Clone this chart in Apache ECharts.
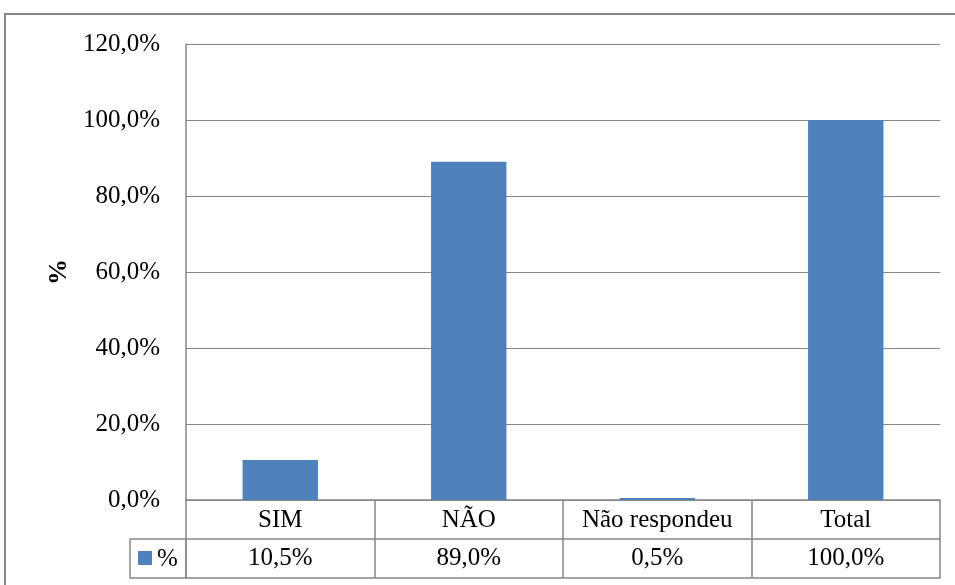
<!DOCTYPE html>
<html>
<head>
<meta charset="utf-8">
<style>
  html, body { margin: 0; padding: 0; background: #fff; }
  #chart { width: 955px; height: 585px; }
</style>
<script src="https://cdn.jsdelivr.net/npm/echarts@6/dist/echarts.min.js"></script>
</head>
<body>
<div id="chart"></div>
<script>
// Respostas (percentual)
const categories = ['SIM', 'NÃO', 'Não respondeu', 'Total'];
const values = [10.5, 89.0, 0.5, 100.0];
const seriesName = '%';
const yTicks = { min: 0, max: 120, interval: 20 };

const FONT = '"Liberation Serif", "Times New Roman", serif';
const BLUE = '#4F81BD';
const LINE = '#878787';
const FS = 25;

function pct(v) {
  return v.toFixed(1).replace('.', ',') + '%';
}

const chart = echarts.init(document.getElementById('chart'));

const gridLeft = 186, gridRight = 15, gridTop = 44, gridBottom = 85;
const rowH = 39;

chart.setOption({
  animation: false,
  backgroundColor: '#fff',
  textStyle: { fontFamily: FONT },
  grid: { left: gridLeft, right: gridRight, top: gridTop, bottom: gridBottom, containLabel: false },
  xAxis: [
    {
      type: 'category',
      data: categories,
      position: 'bottom',
      axisLine: { show: true, lineStyle: { color: LINE, width: 1.5 } },
      axisTick: { show: true, interval: 0, length: rowH * 2, lineStyle: { color: LINE, width: 1.5 } },
      axisLabel: { interval: 0, hideOverlap: false, margin: 8, fontFamily: FONT, fontSize: FS, color: '#000' },
      splitLine: { show: false }
    },
    {
      type: 'category',
      data: values.map(pct),
      position: 'bottom',
      offset: rowH,
      axisLine: { show: true, lineStyle: { color: LINE, width: 1.5 } },
      axisTick: { show: false },
      axisLabel: { interval: 0, hideOverlap: false, margin: 7, fontFamily: FONT, fontSize: FS, color: '#000' }
    },
    {
      type: 'category',
      data: categories,
      position: 'bottom',
      offset: rowH * 2,
      axisLine: { show: true, lineStyle: { color: LINE, width: 1.5 } },
      axisTick: { show: false },
      axisLabel: { show: false }
    }
  ],
  yAxis: {
    type: 'value',
    min: yTicks.min,
    max: yTicks.max,
    interval: yTicks.interval,
    name: seriesName,
    nameLocation: 'middle',
    nameGap: 114,
    nameRotate: 90,
    nameTextStyle: { fontFamily: FONT, fontSize: 26, fontWeight: 'bold', color: '#000' },
    axisLine: { show: true, lineStyle: { color: LINE, width: 1.5 } },
    axisTick: { show: false },
    axisLabel: { margin: 26, fontFamily: FONT, fontSize: FS, color: '#000', formatter: pct },
    splitLine: { show: true, lineStyle: { color: LINE, width: 1.2 } }
  },
  series: [{
    name: seriesName,
    type: 'bar',
    data: values,
    xAxisIndex: 0,
    barWidth: '40%',
    itemStyle: { color: BLUE }
  }],
  graphic: [
    // outer chart frame
    {
      type: 'rect', silent: true,
      shape: { x: 5, y: 14, width: 980, height: 600 },
      style: { fill: 'none', stroke: LINE, lineWidth: 2 }
    },
    // legend key cell of the data table
    {
      type: 'rect', silent: true,
      shape: { x: 130, y: 500 + rowH, width: gridLeft - 130, height: rowH },
      style: { fill: 'none', stroke: LINE, lineWidth: 1.5 }
    },
    {
      type: 'rect', silent: true,
      shape: { x: 138, y: 551, width: 14, height: 14 },
      style: { fill: BLUE }
    },
    {
      type: 'text', silent: true,
      x: 157, y: 559,
      style: { text: seriesName, font: FS + 'px ' + FONT, fill: '#000', verticalAlign: 'middle', align: 'left' }
    }
  ]
});
</script>
</body>
</html>
